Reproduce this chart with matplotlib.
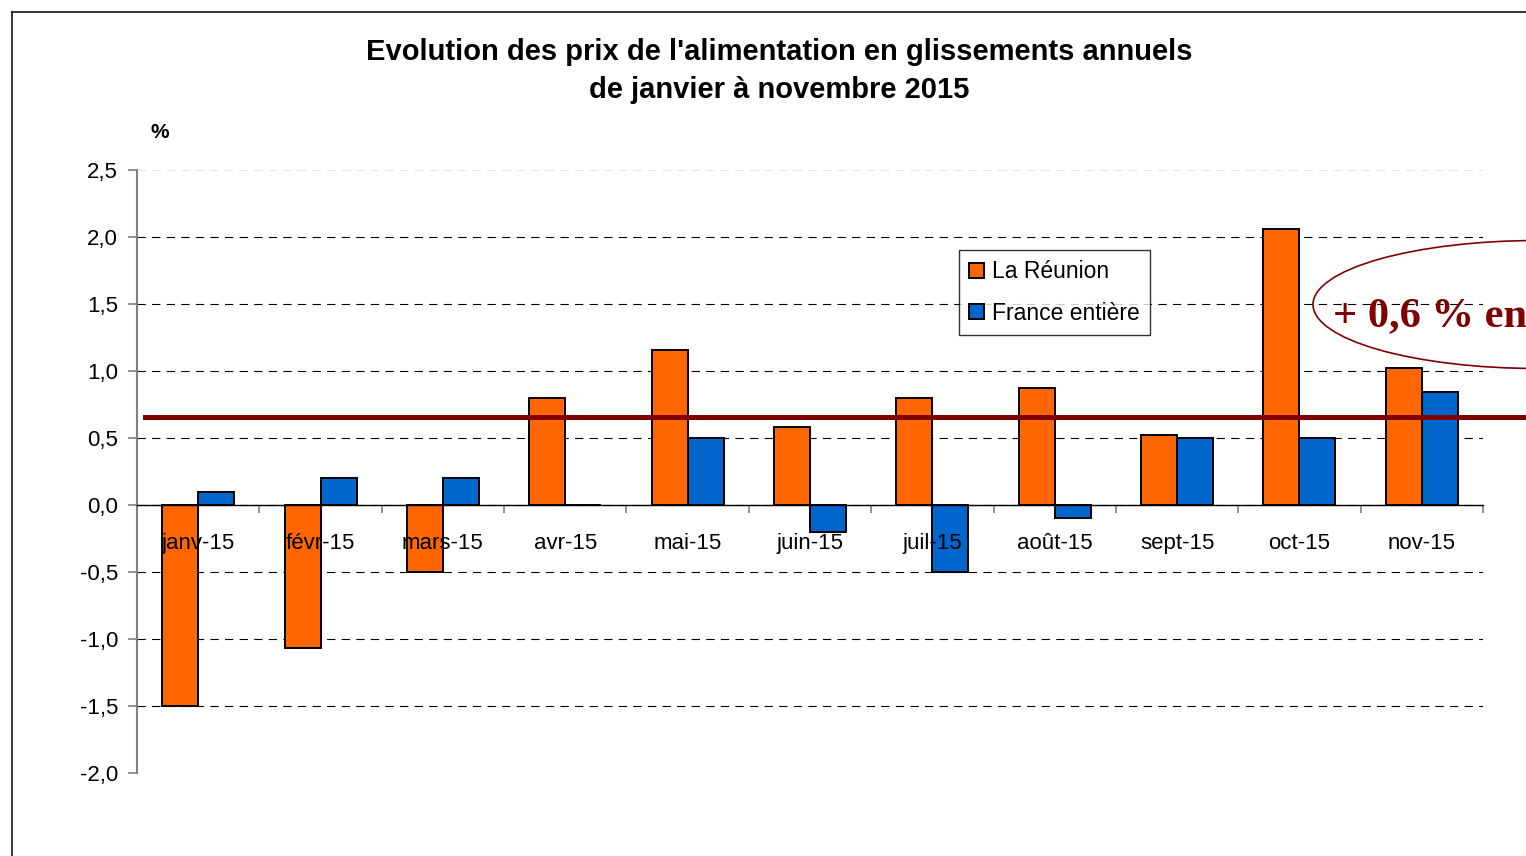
import matplotlib
matplotlib.use('Agg')
import numpy as np
import matplotlib.pyplot as plt
from matplotlib import transforms
from matplotlib.lines import Line2D
from matplotlib.patches import Ellipse
from matplotlib.ticker import FuncFormatter, FixedLocator

plt.rcParams['font.family'] = ['Liberation Sans', 'DejaVu Sans']
plt.rcParams['lines.scale_dashes'] = False

months = ['janv-15', 'févr-15', 'mars-15', 'avr-15', 'mai-15', 'juin-15',
          'juil-15', 'août-15', 'sept-15', 'oct-15', 'nov-15']
reunion = [-1.5, -1.07, -0.5, 0.8, 1.16, 0.58, 0.8, 0.87, 0.52, 2.06, 1.02]
france = [0.1, 0.2, 0.2, 0.0, 0.5, -0.2, -0.5, -0.1, 0.5, 0.5, 0.84]
series = ['La Réunion', 'France entière']
mean_level = 0.66
note = '+ 0,6 % en'

W, H = 1526, 856
fig = plt.figure(figsize=(W / 100, H / 100), dpi=100)
ax = fig.add_axes([137 / W, 1 - 773 / H, (1483 - 137) / W, (773 - 170) / H])

x = np.arange(len(months))
bw = 0.294
ax.bar(x - bw / 2, reunion, bw, color='#FF6600', edgecolor='black',
       linewidth=1.4, label=series[0], zorder=2)
ax.bar(x + bw / 2, france, bw, color='#0066CC', edgecolor='black',
       linewidth=1.4, label=series[1], zorder=2)

ax.set_xlim(-0.5, len(months) - 0.5)
ax.set_ylim(-2.0, 2.5)
ax.set_yticks(np.arange(-2.0, 2.51, 0.5))
ax.yaxis.set_major_formatter(FuncFormatter(lambda v, p: f'{v:.1f}'.replace('.', ',')))

# grid
ax.yaxis.grid(True, color='black', linestyle=(0, (6, 4.5)), linewidth=0.8)
gl = ax.get_ygridlines()
for g in (gl[0], gl[-1]):
    g.set_color('#e4e4e4')
ax.set_axisbelow(True)

# spines
for s in ('top', 'right'):
    ax.spines[s].set_visible(False)
ax.spines['left'].set_color('#808080')
ax.spines['left'].set_linewidth(1.5)
ax.spines['bottom'].set_position(('data', 0))
ax.spines['bottom'].set_color('black')
ax.spines['bottom'].set_linewidth(1.0)
ax.spines['bottom'].set_zorder(3)

ax.tick_params(axis='y', colors='#808080', length=6.5, width=1.2,
               labelcolor='black', labelsize=16, pad=7)
ax.set_xticks([])
ax.xaxis.set_minor_locator(FixedLocator(np.arange(-0.5, len(months), 1.0)))
ax.tick_params(axis='x', which='minor', length=6, width=1.2, color='#808080',
               direction='out')
# month labels sit over the bars, just under the zero line
for i, m in enumerate(months):
    ax.text(i, -0.285, m, ha='center', va='center', fontsize=16, zorder=5)

# mean line across the chart
tr = transforms.blended_transform_factory(fig.transFigure, ax.transData)
fig.add_artist(Line2D([145 / W, 1.0], [mean_level, mean_level], transform=tr,
                      color='#800000', linewidth=3.6, zorder=4))

# annotation
fig.add_artist(Ellipse((1538 / W, 1 - 304.5 / H), 450 / W, 128 / H,
                       transform=fig.transFigure, fill=False,
                       edgecolor='#800000', linewidth=1.2))
fig.text(1333 / W, 1 - 326 / H, note, family='Liberation Serif',
         weight='bold', fontsize=30.5, color='#800000', va='baseline', ha='left')

# legend
leg = ax.legend(loc='upper left', bbox_to_anchor=(959 / W, 1 - 250 / H),
                bbox_transform=fig.transFigure, fontsize=16.5, frameon=True,
                fancybox=False, edgecolor='black', handlelength=0.65,
                handleheight=0.65, handletextpad=0.35, labelspacing=0.8,
                borderpad=0.45, borderaxespad=0)
leg.get_frame().set_linewidth(1.0)
leg.set_zorder(6)

# title and unit
fig.text(779.5 / W, 1 - 71 / H,
         "Evolution des prix de l'alimentation en glissements annuels\n"
         "de janvier à novembre 2015",
         ha='center', va='center', fontsize=21, weight='bold',
         linespacing=1.45)
fig.text(160 / W, 1 - 132 / H, '%', ha='center', va='center',
         fontsize=15, weight='bold')

# outer frame
fig.add_artist(Line2D([11.5 / W, 1.0], [1 - 11.5 / H, 1 - 11.5 / H],
                      transform=fig.transFigure, color='black', linewidth=1.1))
fig.add_artist(Line2D([11.5 / W, 11.5 / W], [0.0, 1 - 11.5 / H],
                      transform=fig.transFigure, color='black', linewidth=1.1))

fig.savefig('out.png', dpi=100)
